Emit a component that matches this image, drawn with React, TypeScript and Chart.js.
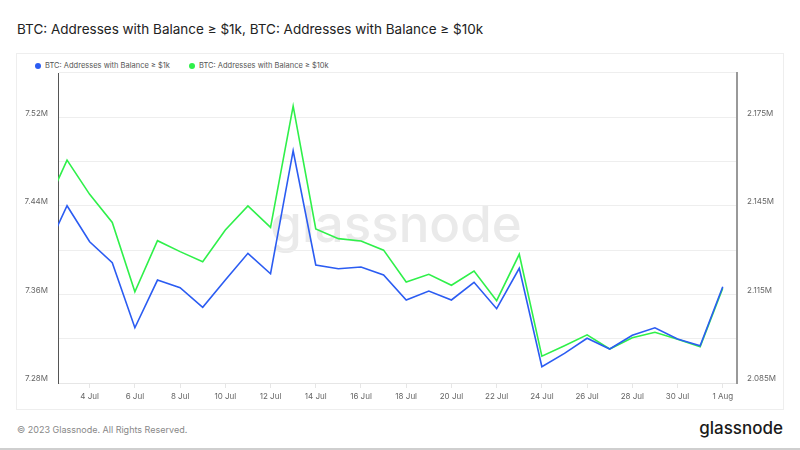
import React, { useEffect, useRef } from "react";
import { Chart, registerables } from "chart.js";

Chart.register(...registerables);

// Day index: 1 = 1 Jul 2023, 32 = 1 Aug 2023
const days: number[] = [2, 3, 4, 5, 6, 7, 8, 9, 10, 11, 12, 13, 14, 15, 16, 17, 18, 19, 20, 21, 22, 23, 24, 25, 26, 27, 28, 29, 30, 31, 32];

const balance1k: number[] = [
  7.3965, 7.4401, 7.4076, 7.3887, 7.3299, 7.373, 7.3661, 7.3484, 7.373, 7.3971,
  7.3787, 7.4898, 7.3866, 7.3832, 7.3848, 7.3775, 7.355, 7.3631, 7.355, 7.371,
  7.3471, 7.3836, 7.2947, 7.3068, 7.3204, 7.3107, 7.3231, 7.3299, 7.3197, 7.3137,
  7.367,
];

const balance10k: number[] = [
  2.1436, 2.1605, 2.1489, 2.1394, 2.1159, 2.1332, 2.1295, 2.1261, 2.1368, 2.145,
  2.1377, 2.1788, 2.1372, 2.1339, 2.1331, 2.13, 2.1192, 2.1218, 2.1181, 2.1229,
  2.1129, 2.1286, 2.0941, 2.0976, 2.1013, 2.0965, 2.1003, 2.1022, 2.0998, 2.0973,
  2.1171,
];

const xTickValues: number[] = [4, 6, 8, 10, 12, 14, 16, 18, 20, 22, 24, 26, 28, 30, 32];
const xTickLabels: string[] = ["4 Jul", "6 Jul", "8 Jul", "10 Jul", "12 Jul", "14 Jul", "16 Jul", "18 Jul", "20 Jul", "22 Jul", "24 Jul", "26 Jul", "28 Jul", "30 Jul", "1 Aug"];

const leftLabels: string[] = ["7.28M", "7.36M", "7.44M", "7.52M"];
const rightLabels: string[] = ["2.085M", "2.115M", "2.145M", "2.175M"];

const seriesNames: string[] = ["BTC: Addresses with Balance ≥ $1k", "BTC: Addresses with Balance ≥ $10k"];
const BLUE = "#2b5cf2";
const GREEN = "#2ff04a";
const FONT = "Inter, 'Noto Sans', sans-serif";

export default function App() {
  const ref = useRef<HTMLCanvasElement | null>(null);

  useEffect(() => {
    if (!ref.current) return;
    const chart = new Chart(ref.current, {
      type: "line",
      data: {
        datasets: [
          {
            label: seriesNames[0],
            data: days.map((d, i) => ({ x: d, y: balance1k[i] })),
            borderColor: BLUE,
            backgroundColor: BLUE,
            borderWidth: 1.6,
            pointRadius: 0,
            tension: 0,
            yAxisID: "yL",
          },
          {
            label: seriesNames[1],
            data: days.map((d, i) => ({ x: d, y: balance10k[i] })),
            borderColor: GREEN,
            backgroundColor: GREEN,
            borderWidth: 1.6,
            pointRadius: 0,
            tension: 0,
            yAxisID: "yR",
          },
        ],
      },
      options: {
        animation: false,
        responsive: false,
        maintainAspectRatio: false,
        layout: { padding: { left: 8, right: 0, top: 20, bottom: 0 } },
        plugins: {
          legend: { display: false },
          tooltip: { enabled: false },
        },
        scales: {
          x: {
            type: "linear",
            min: 2.6,
            max: 32.63,
            afterBuildTicks: (axis: any) => {
              axis.ticks = xTickValues.map((v) => ({ value: v }));
            },
            afterFit: (axis: any) => {
              axis.height = 26;
            },
            ticks: {
              autoSkip: false,
              maxRotation: 0,
              padding: 4,
              color: "#666",
              font: { family: FONT, size: 8 },
              callback: (v: any) => {
                const i = xTickValues.indexOf(Number(v));
                return i >= 0 ? xTickLabels[i] : "";
              },
            },
            grid: { drawOnChartArea: false, drawTicks: true, tickLength: 5, color: "#e6e6e6" },
            border: { display: true, color: "#e6e6e6", width: 1 },
          },
          yL: {
            type: "linear",
            position: "left",
            min: 7.28,
            max: 7.56,
            afterBuildTicks: (axis: any) => {
              const t = [];
              for (let k = 0; k <= 7; k++) t.push({ value: 7.28 + k * 0.04 });
              axis.ticks = t;
            },
            afterFit: (axis: any) => {
              axis.width = 33;
            },
            ticks: {
              padding: 10,
              labelOffset: -4,
              color: "#666",
              font: { family: FONT, size: 8 },
              callback: (_v: any, idx: number) => (idx % 2 === 0 ? leftLabels[idx / 2] : ""),
            },
            grid: { drawTicks: false, color: "#eeeeee", lineWidth: 1 },
            border: { display: true, color: "#555", width: 1 },
          },
          yR: {
            type: "linear",
            position: "right",
            min: 2.085,
            max: 2.19,
            afterBuildTicks: (axis: any) => {
              const t = [];
              for (let k = 0; k <= 7; k++) t.push({ value: 2.085 + k * 0.015 });
              axis.ticks = t;
            },
            afterFit: (axis: any) => {
              axis.width = 46;
            },
            ticks: {
              padding: 10,
              labelOffset: -4,
              color: "#666",
              font: { family: FONT, size: 8 },
              callback: (_v: any, idx: number) => (idx % 2 === 0 ? rightLabels[idx / 2] : ""),
            },
            grid: { drawOnChartArea: false, drawTicks: false },
            border: { display: true, color: "#999", width: 2 },
          },
        },
      } as any,
    });
    return () => chart.destroy();
  }, []);

  const legendItem = (name: string, color: string, left: number) => (
    <div
      style={{
        position: "absolute",
        left,
        top: 61,
        display: "flex",
        alignItems: "center",
        fontFamily: FONT,
        fontSize: 7.5,
        color: "#555",
        whiteSpace: "nowrap",
        lineHeight: "10px",
      }}
    >
      <span
        style={{
          display: "inline-block",
          width: 6,
          height: 6,
          borderRadius: "50%",
          background: color,
          marginRight: 4,
        }}
      />
      {name}
    </div>
  );

  return (
    <div
      style={{
        position: "fixed",
        left: 0,
        top: 0,
        width: 800,
        height: 450,
        background: "#fff",
        overflow: "hidden",
      }}
    >
      <div
        style={{
          position: "absolute",
          left: 17,
          top: 20,
          fontFamily: FONT,
          fontSize: 13.5,
          color: "#222",
          whiteSpace: "nowrap",
          lineHeight: "18px",
        }}
      >
        {seriesNames.join(", ")}
      </div>
      <div
        style={{
          position: "absolute",
          left: 16,
          top: 53,
          width: 766,
          height: 355,
          border: "1px solid #eeeeee",
        }}
      />
      <div
        style={{
          position: "absolute",
          left: 264,
          top: 192,
          width: 264,
          textAlign: "center",
          fontFamily: FONT,
          fontSize: 51,
          fontWeight: 500,
          color: "#eaeaea",
          lineHeight: "64px",
          whiteSpace: "nowrap",
        }}
      >
        glassnode
      </div>
      {legendItem(seriesNames[0], BLUE, 35)}
      {legendItem(seriesNames[1], GREEN, 189)}
      <canvas
        ref={ref}
        width={766}
        height={356}
        style={{ position: "absolute", left: 17, top: 53, width: 766, height: 356 }}
      />
      <div
        style={{
          position: "absolute",
          left: 17,
          top: 424,
          fontFamily: FONT,
          fontSize: 9,
          color: "#888",
          whiteSpace: "nowrap",
          lineHeight: "12px",
        }}
      >
        © 2023 Glassnode. All Rights Reserved.
      </div>
      <div
        style={{
          position: "absolute",
          right: 17,
          top: 417,
          fontFamily: FONT,
          fontSize: 17,
          fontWeight: 500,
          color: "#1a1a1a",
          whiteSpace: "nowrap",
          lineHeight: "22px",
        }}
      >
        glassnode
      </div>
      <div
        style={{
          position: "absolute",
          left: 0,
          top: 448,
          width: 800,
          height: 2,
          background: "#cfcfcf",
        }}
      />
    </div>
  );
}
